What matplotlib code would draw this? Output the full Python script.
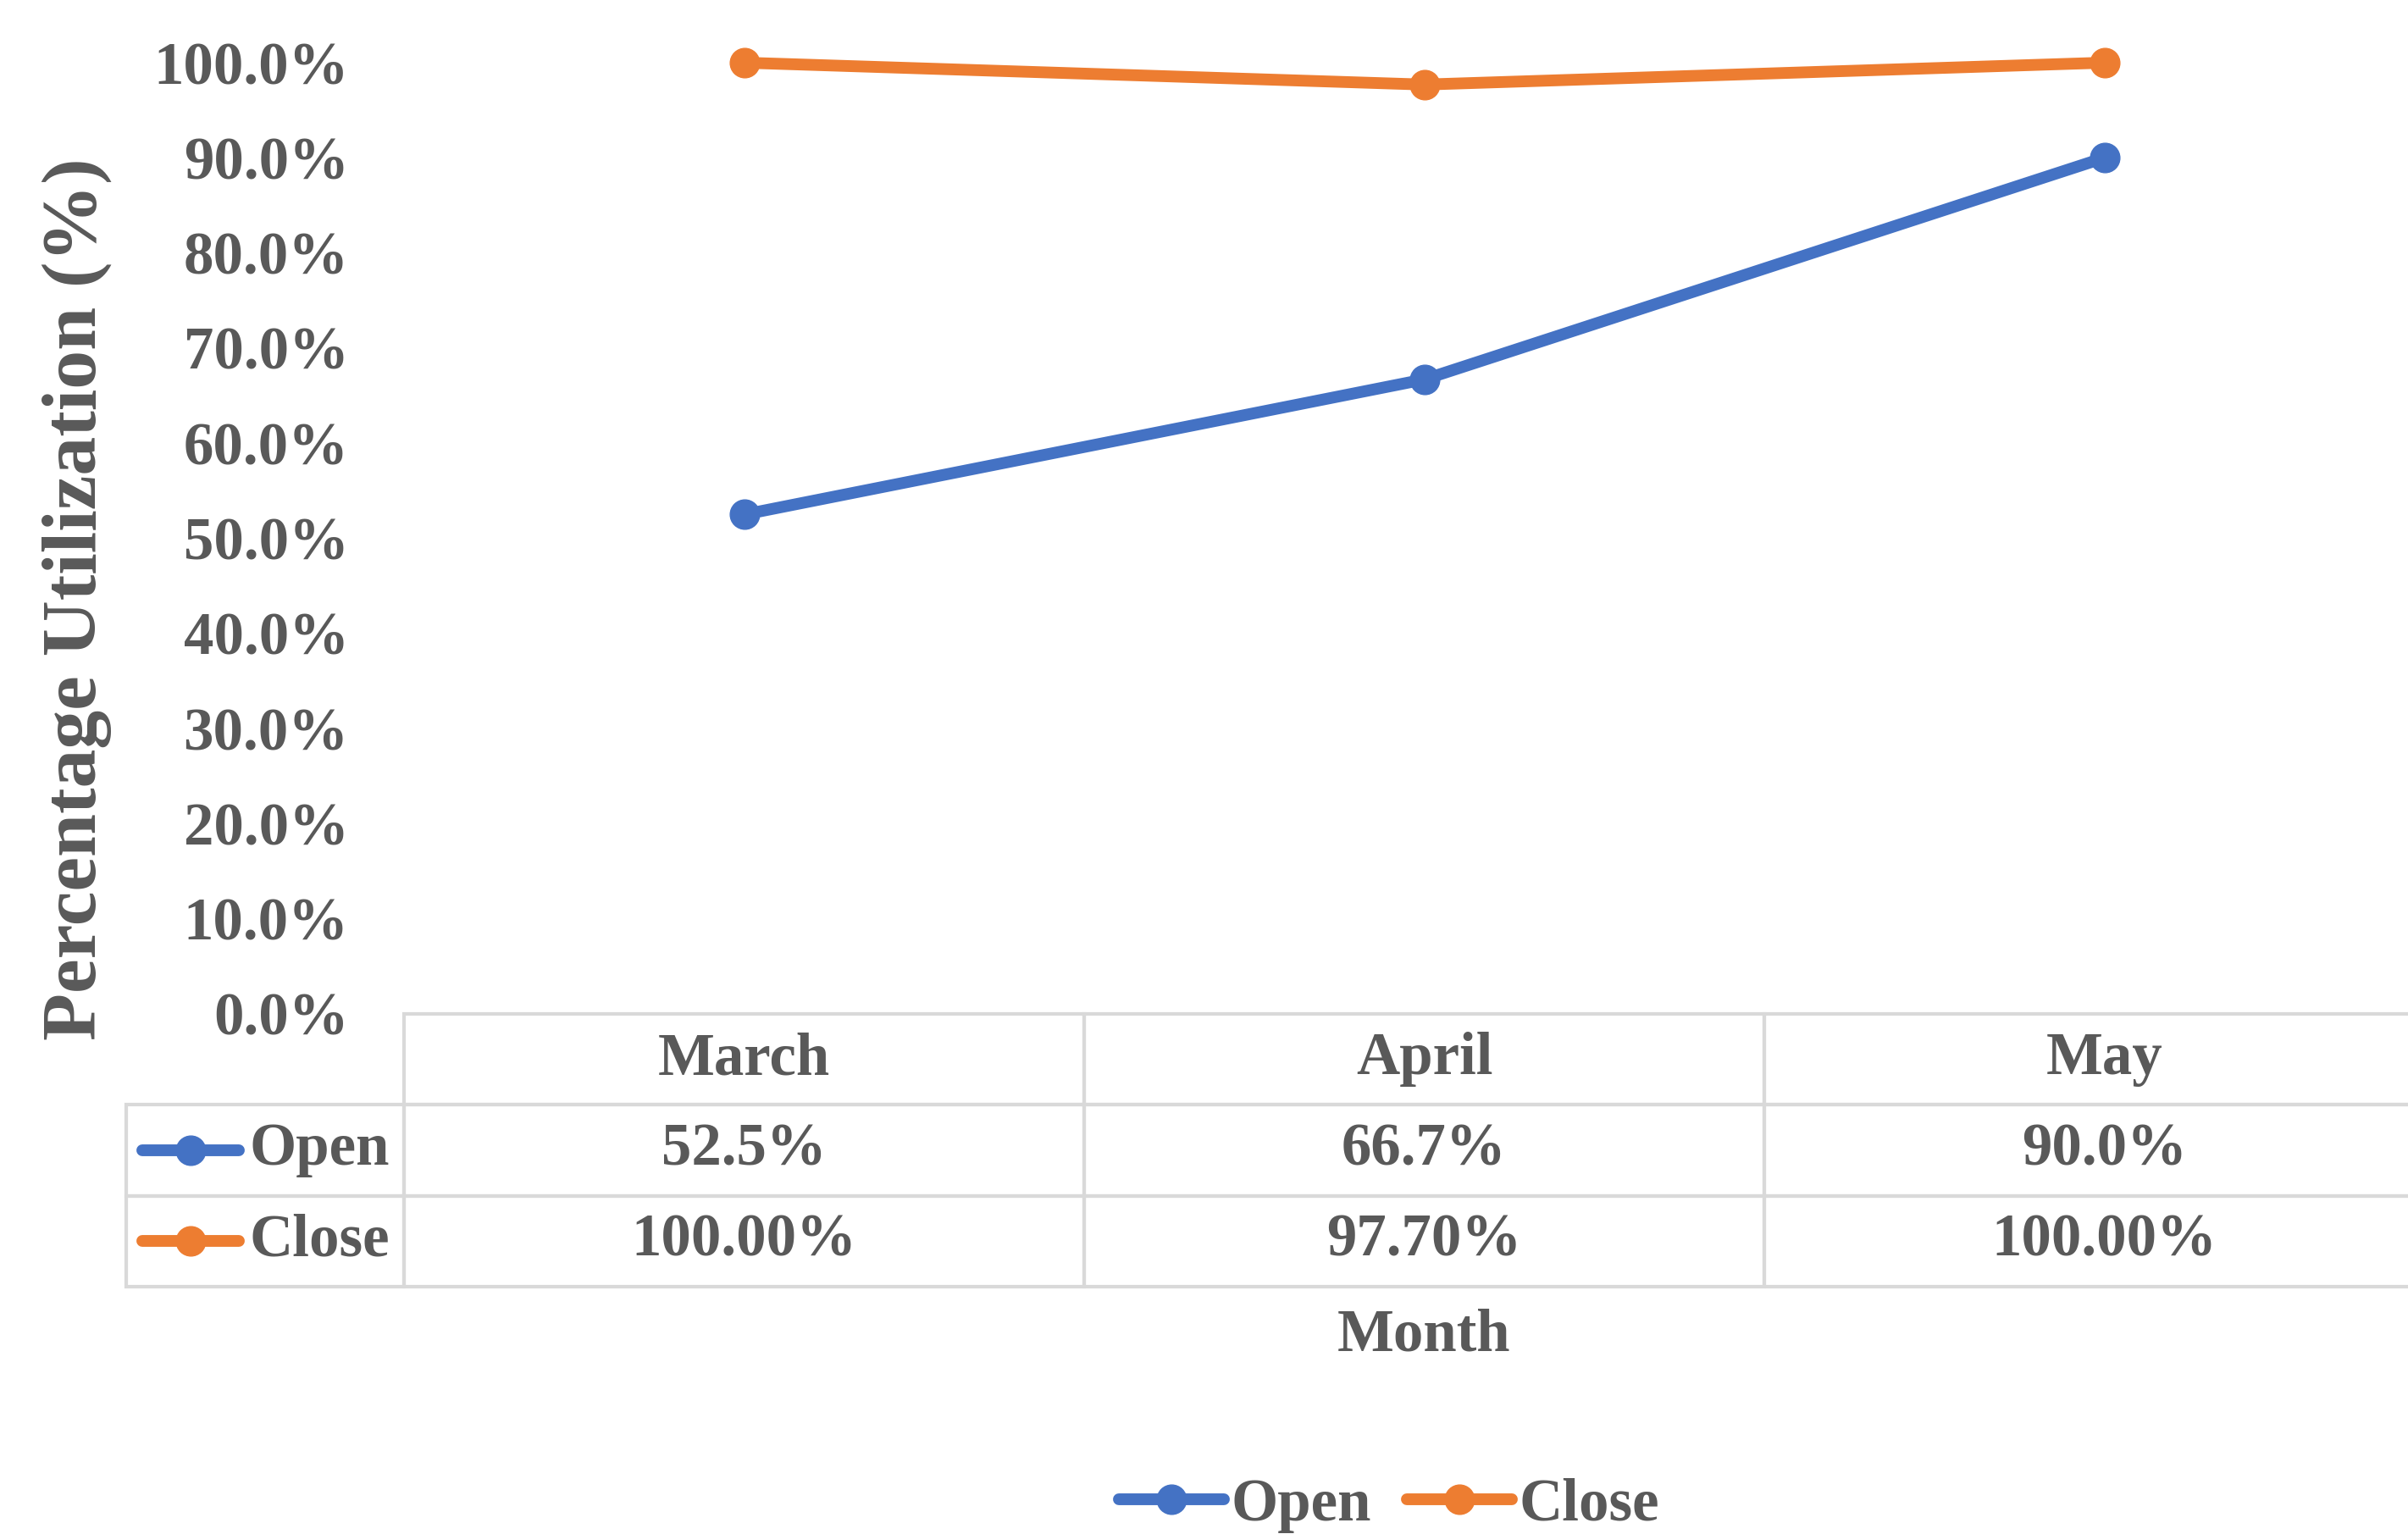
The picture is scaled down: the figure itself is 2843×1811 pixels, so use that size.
import matplotlib
matplotlib.use("Agg")
import matplotlib.pyplot as plt
from matplotlib.lines import Line2D
from matplotlib.ticker import FuncFormatter, MultipleLocator
import matplotlib.transforms as mtransforms

# ---- data ----
months = ["March", "April", "May"]
open_vals = [52.5, 66.7, 90.0]
close_vals = [100.0, 97.7, 100.0]
series_names = ["Open", "Close"]

# ---- style ----
BLUE = "#4472C4"
ORANGE = "#ED7D31"
TXT = "#595959"
GRID = "#D9D9D9"
FONT = "Liberation Serif"
FS = 51

plt.rcParams["font.family"] = [FONT, "DejaVu Serif"]
plt.rcParams["font.weight"] = "bold"

W, H = 2843, 1811
fig = plt.figure(figsize=(W / 100, H / 100), dpi=100)

# axes: x from px 477, 3 categories of 803 px; y from 1197 (0%) to 74 (100%)
ax_left = 477 / W
ax_w = 3 * 803 / W
ax_bottom = 1 - 1197 / H
ax_h = (1197 - 74) / H
ax = fig.add_axes([ax_left, ax_bottom, ax_w, ax_h])

x = list(range(len(months)))
lw = 10
ms = 25
ax.plot(x, open_vals, color=BLUE, lw=lw, marker="o", ms=ms, solid_capstyle="round", clip_on=False, zorder=3)
ax.plot(x, close_vals, color=ORANGE, lw=lw, marker="o", ms=ms, solid_capstyle="round", clip_on=False, zorder=3)

ax.set_xlim(-0.5, len(months) - 0.5)
ax.set_ylim(0, 100)
ax.yaxis.set_major_locator(MultipleLocator(10))
ax.yaxis.set_major_formatter(FuncFormatter(lambda v, p: f"{v:.1f}%"))
ax.set_xticks([])
ax.tick_params(axis="y", length=0, pad=47, labelsize=FS, labelcolor=TXT)
for lab in ax.get_yticklabels():
    lab.set_fontweight("bold")
    lab.set_fontfamily(FONT)
for s in ax.spines.values():
    s.set_visible(False)

# ---- data table ----
left_col_frac = 328 / (3 * 803)
cell_text = [[""] + months]
cell_text.append([""] + [f"{v:.1f}%" for v in open_vals])
cell_text.append([""] + [f"{v:.2f}%" for v in close_vals])
table_h = (1519 - 1197) / (1197 - 74)
col_w = [left_col_frac] + [1 / len(months)] * len(months)
tbl = ax.table(cellText=cell_text, colWidths=col_w, cellLoc="center",
               bbox=[-left_col_frac, -table_h, 1 + left_col_frac, table_h])
tbl.auto_set_font_size(False)
tbl.set_fontsize(FS)
for (r, c), cell in tbl.get_celld().items():
    cell.set_edgecolor(GRID)
    cell.set_linewidth(3)
    cell.set_facecolor("none")
    t = cell.get_text()
    t.set_color(TXT)
    t.set_fontweight("bold")
    t.set_fontfamily(FONT)
    if r == 0 and c == 0:
        cell.visible_edges = ""

# row labels with legend keys
row_h = table_h / 3
colors = [BLUE, ORANGE]
for i, (name, col) in enumerate(zip(series_names, colors)):
    yc = -row_h * (i + 1.5)
    x0 = (168 - 477) / (3 * 803)
    x1 = (282 - 477) / (3 * 803)
    ln = Line2D([x0, x1], [yc, yc], transform=ax.transAxes, color=col, lw=lw,
                solid_capstyle="round", clip_on=False)
    ax.add_line(ln)
    mk = Line2D([(x0 + x1) / 2], [yc], transform=ax.transAxes, color=col, marker="o",
                ms=ms, lw=0, clip_on=False)
    ax.add_line(mk)
    ax.text((294 - 477) / (3 * 803), yc, name, transform=ax.transAxes, ha="left", va="center",
            fontsize=FS, color=TXT, fontweight="bold", fontfamily=FONT)

# x-axis title
trans = mtransforms.blended_transform_factory(ax.transData, ax.transAxes)
ax.text(1, (1197 - 1577) / (1197 - 74), "Month", transform=trans, ha="center", va="center",
        fontsize=FS, color=TXT, fontweight="bold", fontfamily=FONT)

# y-axis title
fig.text(91 / W, 1 - 707 / H, "Percentage Utilization (%)", rotation=90, ha="center", va="center",
         fontsize=66, color=TXT, fontweight="bold", fontfamily=FONT)

# legend
handles = [Line2D([], [], color=c, lw=lw, marker="o", ms=ms, solid_capstyle="round") for c in colors]
leg = fig.legend(handles, series_names, loc="center", bbox_to_anchor=(1640 / W, 1 - 1777 / H),
                 ncol=2, frameon=False, fontsize=FS, handlelength=1.75, handletextpad=0.12,
                 columnspacing=0.6)
for t in leg.get_texts():
    t.set_color(TXT)
    t.set_fontweight("bold")
    t.set_fontfamily(FONT)

fig.savefig("out.png", dpi=100, facecolor="white")
